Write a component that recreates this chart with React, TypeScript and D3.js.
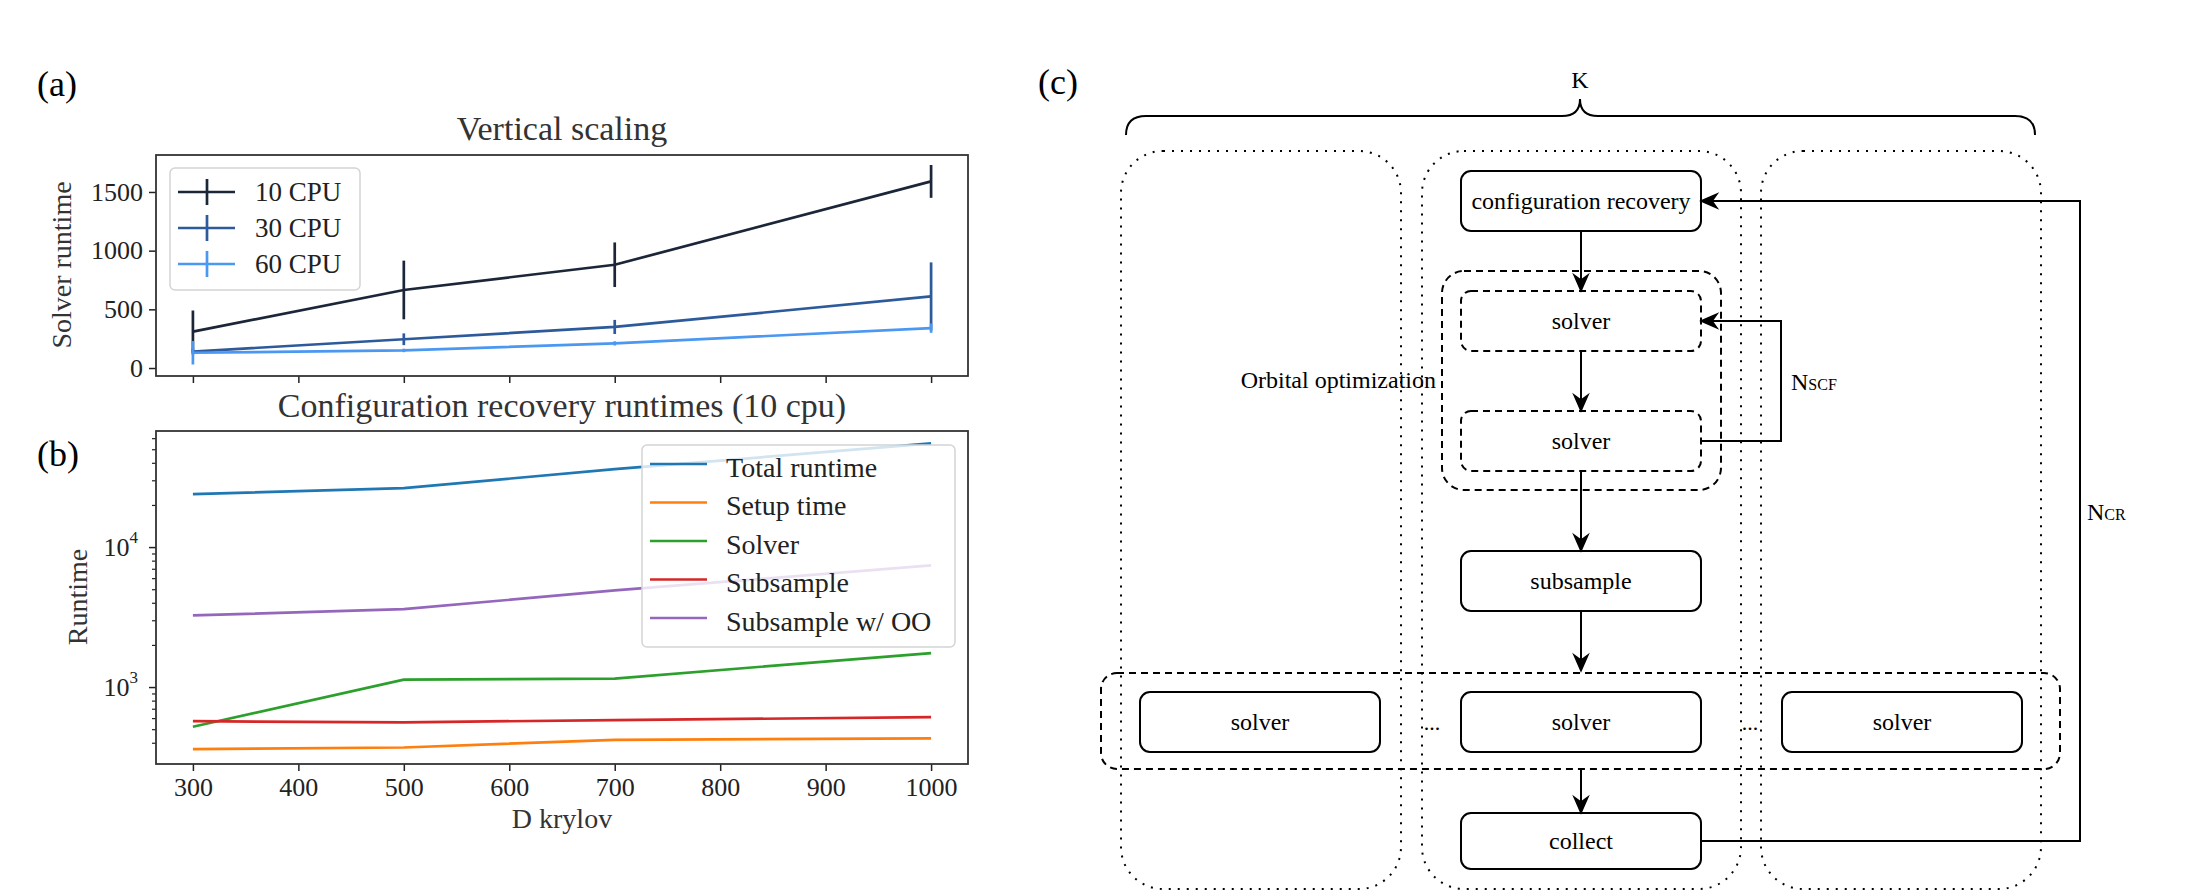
import React, { useEffect, useRef } from 'react';
import * as d3 from 'd3';

const W = 2186;
const H = 892;

// (a) vertical scaling
const krylovD = [300, 500, 700, 1000];
const cpuSeries = ['10 CPU', '30 CPU', '60 CPU'];
const cpuColors = ['#1b2639', '#2c5a9b', '#4a98f2'];
const cpu10 = [310, 665, 880, 1590];
const cpu10Err = [180, 250, 190, 140];
const cpu30 = [140, 245, 350, 610];
const cpu30Err = [25, 50, 60, 290];
const cpu60 = [130, 150, 210, 340];
const cpu60Err = [100, 15, 18, 40];
const runtimeTicks = [0, 500, 1000, 1500];
const krylovTicks = [300, 400, 500, 600, 700, 800, 900, 1000];

// (b) configuration recovery runtimes
const breakdownSeries = ['Total runtime', 'Setup time', 'Solver', 'Subsample', 'Subsample w/ OO'];
const breakdownColors = ['#1f77b4', '#ff7f0e', '#2ca02c', '#d62728', '#9467bd'];
const totalRuntime = [23900, 26400, 36000, 55000];
const setupTime = [360, 370, 420, 430];
const solverTime = [520, 1130, 1150, 1750];
const subsampleTime = [570, 560, 580, 610];
const subsampleOO = [3250, 3600, 4900, 7400];
const logMajor = [1000, 10000];
const logMinor = [400, 500, 600, 700, 800, 900, 2000, 3000, 4000, 5000, 6000, 7000, 8000, 9000, 20000, 30000, 40000, 50000, 60000];

// (c) workflow
const flowSteps = ['configuration recovery', 'solver', 'solver', 'subsample'];
const parallelSolvers = ['solver', 'solver', 'solver'];

const SERIF = '"Liberation Serif", "Times New Roman", serif';

const App: React.FC = () => {
  const svgRef = useRef<SVGSVGElement>(null);

  useEffect(() => {
    if (!svgRef.current) return;
    const svg = d3.select(svgRef.current);
    svg.selectAll('*').remove();

    svg.append('rect').attr('width', W).attr('height', H).attr('fill', '#fff');

    const x = d3.scaleLinear().domain([265, 1035]).range([156, 968]);

    // ---------- panel (a) ----------
    const ya = d3.scaleLinear().domain([-68, 1815]).range([376, 155]);
    const a = svg.append('g');

    a.append('g')
      .attr('transform', 'translate(156,0)')
      .call(d3.axisLeft(ya).tickValues(runtimeTicks).tickSize(7).tickPadding(6).tickFormat(d3.format('d')))
      .call(g => g.select('.domain').remove())
      .call(g => g.selectAll('line').attr('stroke', '#222').attr('stroke-width', 1.5))
      .call(g => g.selectAll('text').attr('font-family', SERIF).attr('font-size', 26).attr('fill', '#222'));

    a.append('g')
      .attr('transform', 'translate(0,376)')
      .call(d3.axisBottom(x).tickValues(krylovTicks).tickSize(7).tickFormat(() => ''))
      .call(g => g.select('.domain').remove())
      .call(g => g.selectAll('line').attr('stroke', '#222').attr('stroke-width', 1.5));

    const series = [
      { v: cpu10, e: cpu10Err },
      { v: cpu30, e: cpu30Err },
      { v: cpu60, e: cpu60Err },
    ];
    const lineA = d3.line<number>().x((_, i) => x(krylovD[i])).y(d => ya(d));
    series.forEach((s, k) => {
      a.append('path').attr('d', lineA(s.v)).attr('fill', 'none')
        .attr('stroke', cpuColors[k]).attr('stroke-width', 2.7);
      s.v.forEach((v, i) => {
        a.append('line')
          .attr('x1', x(krylovD[i])).attr('x2', x(krylovD[i]))
          .attr('y1', ya(v - s.e[i])).attr('y2', ya(v + s.e[i]))
          .attr('stroke', cpuColors[k]).attr('stroke-width', 2.7);
      });
    });

    a.append('rect').attr('x', 156).attr('y', 155).attr('width', 812).attr('height', 221)
      .attr('fill', 'none').attr('stroke', '#333').attr('stroke-width', 1.8);

    // legend (a)
    const la = a.append('g');
    la.append('rect').attr('x', 170).attr('y', 168).attr('width', 190).attr('height', 122).attr('rx', 5)
      .attr('fill', '#fff').attr('fill-opacity', 0.8).attr('stroke', '#d4d4d4').attr('stroke-width', 1.5);
    cpuSeries.forEach((name, k) => {
      const cy = 192 + k * 36;
      la.append('line').attr('x1', 178).attr('x2', 235).attr('y1', cy).attr('y2', cy)
        .attr('stroke', cpuColors[k]).attr('stroke-width', 2.7);
      la.append('line').attr('x1', 207).attr('x2', 207).attr('y1', cy - 13).attr('y2', cy + 13)
        .attr('stroke', cpuColors[k]).attr('stroke-width', 2.7);
      la.append('text').attr('x', 255).attr('y', cy).attr('dy', '0.35em')
        .attr('font-family', SERIF).attr('font-size', 27).attr('fill', '#222').text(name);
    });

    a.append('text').attr('x', 562).attr('y', 140).attr('text-anchor', 'middle')
      .attr('font-family', SERIF).attr('font-size', 34).attr('fill', '#333').text('Vertical scaling');
    a.append('text').attr('transform', 'translate(71,265) rotate(-90)').attr('text-anchor', 'middle')
      .attr('font-family', SERIF).attr('font-size', 28).attr('fill', '#333').text('Solver runtime');

    // ---------- panel (b) ----------
    const yb = d3.scaleLog().domain([282, 67500]).range([764, 431]);
    const b = svg.append('g');

    b.append('g')
      .attr('transform', 'translate(156,0)')
      .call(d3.axisLeft(yb).tickValues(logMajor).tickSize(7).tickFormat(() => ''))
      .call(g => g.select('.domain').remove())
      .call(g => g.selectAll('line').attr('stroke', '#222').attr('stroke-width', 1.5));
    b.append('g')
      .attr('transform', 'translate(156,0)')
      .call(d3.axisLeft(yb).tickValues(logMinor).tickSize(4).tickFormat(() => ''))
      .call(g => g.select('.domain').remove())
      .call(g => g.selectAll('line').attr('stroke', '#222').attr('stroke-width', 1.2));
    logMajor.forEach(v => {
      const t = b.append('text').attr('x', 138).attr('y', yb(v)).attr('dy', '0.35em').attr('text-anchor', 'end')
        .attr('font-family', SERIF).attr('font-size', 26).attr('fill', '#222');
      t.append('tspan').text('10');
      t.append('tspan').attr('font-size', 17).attr('dy', '-0.75em').text(String(Math.round(Math.log10(v))));
    });

    b.append('g')
      .attr('transform', 'translate(0,764)')
      .call(d3.axisBottom(x).tickValues(krylovTicks).tickSize(7).tickPadding(7).tickFormat(d3.format('d')))
      .call(g => g.select('.domain').remove())
      .call(g => g.selectAll('line').attr('stroke', '#222').attr('stroke-width', 1.5))
      .call(g => g.selectAll('text').attr('font-family', SERIF).attr('font-size', 26).attr('fill', '#222'));

    const lineB = d3.line<number>().x((_, i) => x(krylovD[i])).y(d => yb(d));
    [totalRuntime, setupTime, solverTime, subsampleTime, subsampleOO].forEach((s, k) => {
      b.append('path').attr('d', lineB(s)).attr('fill', 'none')
        .attr('stroke', breakdownColors[k]).attr('stroke-width', 2.7);
    });

    b.append('rect').attr('x', 156).attr('y', 431).attr('width', 812).attr('height', 333)
      .attr('fill', 'none').attr('stroke', '#333').attr('stroke-width', 1.8);

    const lb = b.append('g');
    lb.append('rect').attr('x', 642).attr('y', 445).attr('width', 313).attr('height', 202).attr('rx', 5)
      .attr('fill', '#fff').attr('fill-opacity', 0.8).attr('stroke', '#d4d4d4').attr('stroke-width', 1.5);
    breakdownSeries.forEach((name, k) => {
      const cy = 464 + k * 38.5;
      lb.append('line').attr('x1', 650).attr('x2', 707).attr('y1', cy).attr('y2', cy)
        .attr('stroke', breakdownColors[k]).attr('stroke-width', 2.7);
      lb.append('text').attr('x', 726).attr('y', cy + 3).attr('dy', '0.35em')
        .attr('font-family', SERIF).attr('font-size', 28).attr('fill', '#222').text(name);
    });

    b.append('text').attr('x', 562).attr('y', 417).attr('text-anchor', 'middle')
      .attr('font-family', SERIF).attr('font-size', 34).attr('fill', '#333')
      .text('Configuration recovery runtimes (10 cpu)');
    b.append('text').attr('transform', 'translate(87,597) rotate(-90)').attr('text-anchor', 'middle')
      .attr('font-family', SERIF).attr('font-size', 28).attr('fill', '#333').text('Runtime');
    b.append('text').attr('x', 562).attr('y', 828).attr('text-anchor', 'middle')
      .attr('font-family', SERIF).attr('font-size', 28).attr('fill', '#333').text('D krylov');

    // panel labels
    [['(a)', 37, 96], ['(b)', 37, 466], ['(c)', 1038, 94]].forEach(([t, px, py]) => {
      svg.append('text').attr('x', px as number).attr('y', py as number)
        .attr('font-family', SERIF).attr('font-size', 36).attr('fill', '#000').text(t as string);
    });

    // ---------- panel (c) ----------
    const c = svg.append('g').attr('fill', 'none').attr('stroke', '#000').attr('stroke-width', 2);

    // dotted columns
    [[1121, 1401], [1422, 1741], [1761, 2041]].forEach(([x0, x1]) => {
      c.append('rect').attr('x', x0).attr('y', 151).attr('width', x1 - x0).attr('height', 738)
        .attr('rx', 42).attr('stroke-dasharray', '2 7');
    });

    // brace and K
    c.append('path')
      .attr('d', 'M1126,135 Q1126,116 1146,116 L1562,116 Q1580,116 1580,99 Q1580,116 1598,116 L2015,116 Q2035,116 2035,135');
    svg.append('text').attr('x', 1580).attr('y', 88).attr('text-anchor', 'middle')
      .attr('font-family', SERIF).attr('font-size', 24).text('K');

    // orbital optimization group
    c.append('rect').attr('x', 1442).attr('y', 271).attr('width', 279).attr('height', 219).attr('rx', 22)
      .attr('stroke-dasharray', '7 5');
    // parallel row
    c.append('rect').attr('x', 1101).attr('y', 673).attr('width', 959).attr('height', 96).attr('rx', 16)
      .attr('stroke-dasharray', '7 5');

    const bx = 1461, bw = 240, bh = 60;
    const stepY = [171, 291, 411, 551];
    flowSteps.forEach((label, i) => {
      c.append('rect').attr('x', bx).attr('y', stepY[i]).attr('width', bw).attr('height', bh).attr('rx', 10)
        .attr('stroke-dasharray', i === 1 || i === 2 ? '7 5' : null);
      svg.append('text').attr('x', bx + bw / 2).attr('y', stepY[i] + bh / 2).attr('dy', '0.35em')
        .attr('text-anchor', 'middle').attr('font-family', SERIF).attr('font-size', 24).text(label);
    });
    const rowX = [1140, 1461, 1782];
    parallelSolvers.forEach((label, i) => {
      c.append('rect').attr('x', rowX[i]).attr('y', 692).attr('width', bw).attr('height', bh).attr('rx', 10);
      svg.append('text').attr('x', rowX[i] + bw / 2).attr('y', 722).attr('dy', '0.35em')
        .attr('text-anchor', 'middle').attr('font-family', SERIF).attr('font-size', 24).text(label);
    });
    [1432, 1750].forEach(px => {
      svg.append('text').attr('x', px).attr('y', 730).attr('text-anchor', 'middle')
        .attr('font-family', SERIF).attr('font-size', 22).text('...');
    });
    c.append('rect').attr('x', bx).attr('y', 813).attr('width', bw).attr('height', 56).attr('rx', 10);
    svg.append('text').attr('x', bx + bw / 2).attr('y', 841).attr('dy', '0.35em')
      .attr('text-anchor', 'middle').attr('font-family', SERIF).attr('font-size', 24).text('collect');

    const head = (tx: number, ty: number, dir: 'down' | 'left') => {
      const p = dir === 'down'
        ? `M${tx},${ty} L${tx - 7},${ty - 16} L${tx},${ty - 11} L${tx + 7},${ty - 16} Z`
        : `M${tx},${ty} L${tx + 16},${ty - 7} L${tx + 11},${ty} L${tx + 16},${ty + 7} Z`;
      c.append('path').attr('d', p).attr('fill', '#000').attr('stroke-width', 1.5);
    };
    const cx = bx + bw / 2;
    const drops: [number, number][] = [[231, 291], [351, 411], [471, 551], [611, 671], [769, 813]];
    drops.forEach(([y0, y1]) => {
      c.append('line').attr('x1', cx).attr('x2', cx).attr('y1', y0).attr('y2', y1 - 10);
      head(cx, y1, 'down');
    });

    // N_SCF loop
    c.append('path').attr('d', `M1701,441 L1781,441 L1781,321 L1711,321`);
    head(1701, 321, 'left');
    const nscf = svg.append('text').attr('x', 1791).attr('y', 390).attr('font-family', SERIF).attr('font-size', 24);
    nscf.append('tspan').text('N');
    nscf.append('tspan').attr('font-size', 16).text('SCF');

    // N_CR loop
    c.append('path').attr('d', `M1701,841 L2080,841 L2080,201 L1711,201`);
    head(1701, 201, 'left');
    const ncr = svg.append('text').attr('x', 2087).attr('y', 520).attr('font-family', SERIF).attr('font-size', 24);
    ncr.append('tspan').text('N');
    ncr.append('tspan').attr('font-size', 16).text('CR');

    svg.append('text').attr('x', 1436).attr('y', 380).attr('dy', '0.35em').attr('text-anchor', 'end')
      .attr('font-family', SERIF).attr('font-size', 24).text('Orbital optimization');
  }, []);

  return (
    <svg
      ref={svgRef}
      width={W}
      height={H}
      style={{ position: 'absolute', left: 0, top: 0, display: 'block' }}
    />
  );
};

export default App;
